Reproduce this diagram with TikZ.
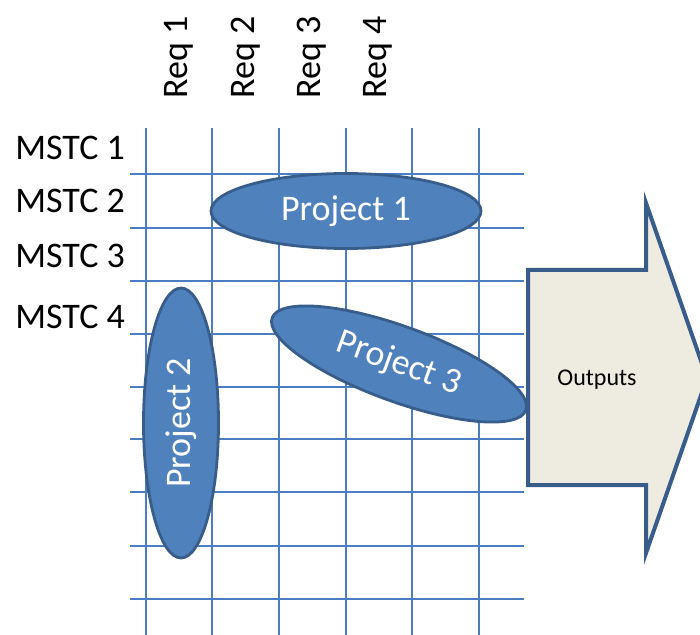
\documentclass[tikz,border=0pt]{standalone}
\usepackage{fontspec}
\setmainfont{Carlito}
\usetikzlibrary{shapes.geometric}

\definecolor{gridblue}{RGB}{74,126,193}
\definecolor{projfill}{RGB}{79,129,189}
\definecolor{projline}{RGB}{56,93,138}
\definecolor{outfill}{RGB}{238,236,225}

\tikzset{
	project/.style={ellipse, draw=projline, line width=1.4pt, fill=projfill, text=white,
		minimum width=135pt, minimum height=37.5pt, inner sep=0pt, font=\fontsize{18}{20}\selectfont},
	rowlabel/.style={anchor=base west, inner sep=0pt, font=\fontsize{18}{20}\selectfont},
	collabel/.style={anchor=base west, rotate=90, inner sep=0pt, font=\fontsize{18}{20}\selectfont}
}

\begin{document}
\begin{tikzpicture}[x=0.5pt, y=-0.5pt]

		\useasboundingbox (0, 0) rectangle (700, 635);
		\clip (0, 0) rectangle (700, 635);

		\foreach \y in {174, 228, 281, 334, 387, 439, 492, 546, 599} {
				\draw[gridblue, line width=1pt] (130, \y) -- (524, \y);
			}
		\foreach \x in {146, 212, 279, 346, 412, 479} {
				\draw[gridblue, line width=1pt] (\x, 128) -- (\x, 640);
			}

		\node[rowlabel] (m1) at (15, 160) {MSTC 1};
		\node[rowlabel] (m2) at (15, 213) {MSTC 2};
		\node[rowlabel] (m3) at (15, 268) {MSTC 3};
		\node[rowlabel] (m4) at (15, 329) {MSTC 4};

		\node[collabel] (r1) at (187, 99) {Req 1};
		\node[collabel] (r2) at (254, 99) {Req 2};
		\node[collabel] (r3) at (320, 99) {Req 3};
		\node[collabel] (r4) at (386, 99) {Req 4};

		\node[project] (p1) at (346, 211) {Project 1};
		\node[project, rotate=90] (p2) at (181, 423) {Project 2};
		\node[project, rotate=-20] (p3) at (399, 364) {Project 3};

		\draw[projline, line width=2pt, fill=outfill, line join=miter]
			(528, 270) -- (646, 270) -- (646, 203) -- (707, 378) -- (646, 553)
			-- (646, 485) -- (528, 485) -- cycle;
		\node[font=\fontsize{12}{14}\selectfont] (out) at (597, 380) {Outputs};

	\end{tikzpicture}
\end{document}
